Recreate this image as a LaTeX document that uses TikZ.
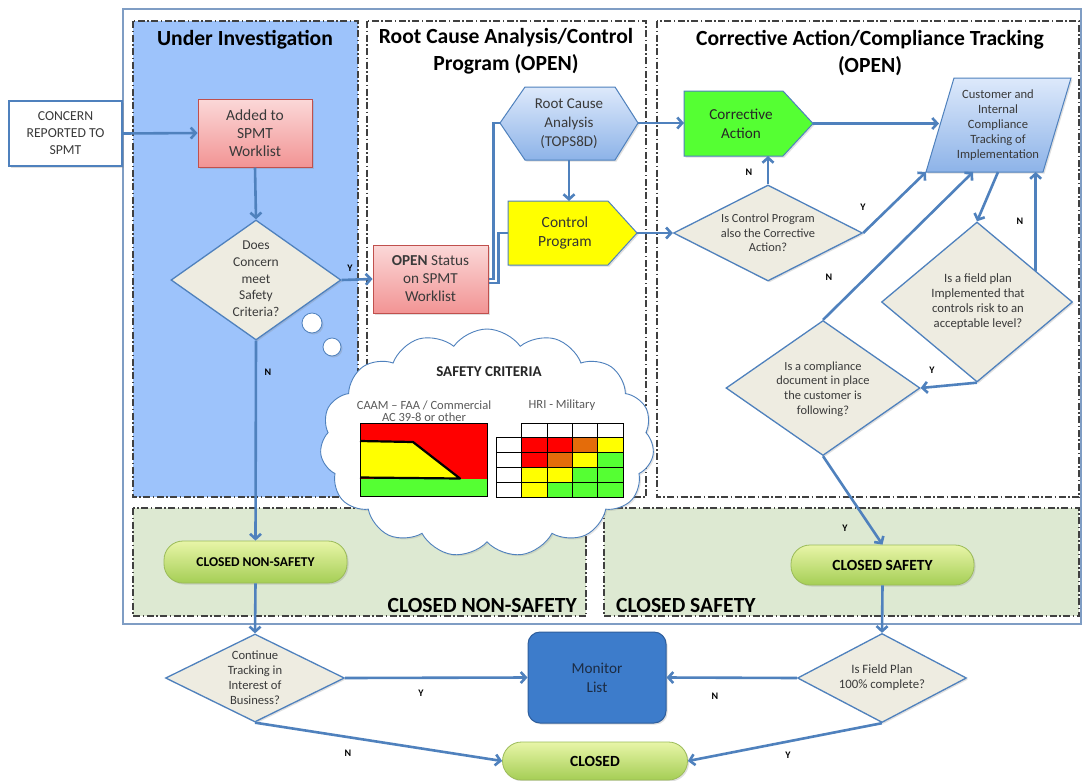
\documentclass[tikz,border=0pt]{standalone}
\usepackage{fontspec}
\setmainfont{Carlito}
\usetikzlibrary{arrows.meta,shapes.geometric,shapes.symbols,shadows,calc}
\definecolor{lineblue}{HTML}{4F81BD}
\definecolor{frameblue}{HTML}{7F9DC4}
\definecolor{colblue}{HTML}{9DC3FB}
\definecolor{regiongreen}{HTML}{DDE9D2}
\definecolor{diafill}{HTML}{EEECE1}
\definecolor{txtgray}{HTML}{3A3A3A}
\definecolor{dashgray}{HTML}{404040}
\definecolor{pinktop}{HTML}{FBD8D8}
\definecolor{pinkbot}{HTML}{F29494}
\definecolor{pinkedge}{HTML}{C0504D}
\definecolor{hextop}{HTML}{DDE9FB}
\definecolor{hexbot}{HTML}{8DB3E8}
\definecolor{ctrlyellow}{HTML}{FFFF00}
\definecolor{cagreen}{HTML}{55FF33}
\definecolor{pilltop}{HTML}{E8F5A8}
\definecolor{pillbot}{HTML}{A5CE55}
\definecolor{pilledge}{HTML}{9BBB59}
\definecolor{monblue}{HTML}{3D7CCB}
\definecolor{monedge}{HTML}{2E5E9C}
\definecolor{montext}{HTML}{1C2C44}
\definecolor{critred}{HTML}{FF0000}
\definecolor{critorange}{HTML}{E46C0A}
\definecolor{chartgray}{HTML}{595959}
\newcommand{\fsz}[2]{\fontsize{#1}{#2}\selectfont}
\tikzset{
  colbox/.style={draw=dashgray, line width=1.2pt, dash pattern=on 7pt off 2.5pt on 1.5pt off 2.5pt},
  conn/.style={draw=lineblue, line width=2.6pt, -{Straight Barb[length=5pt,width=11pt]}},
  link/.style={draw=lineblue, line width=2.6pt},
  yn/.style={font=\bfseries\fsz{10}{11}, text=black, inner sep=0pt},
  dia/.style={diamond, draw=lineblue, line width=1.3pt, fill=diafill, inner sep=0pt,
     drop shadow={opacity=0.25, shadow xshift=1.5pt, shadow yshift=-1.5pt}},
  dtext/.style={align=center, text=txtgray, inner sep=0pt},
  titletext/.style={font=\bfseries\fsz{21.6}{27}, align=center, text=black},
  pill/.style={rectangle, rounded corners=19pt, draw=pilledge, line width=0.8pt,
     top color=pilltop, bottom color=pillbot, text=black,
     drop shadow={opacity=0.25, shadow xshift=1.5pt, shadow yshift=-1.5pt}},
  pinkbox/.style={rectangle, draw=pinkedge, line width=1pt, top color=pinktop, bottom color=pinkbot,
     align=center, text=txtgray, drop shadow={opacity=0.25, shadow xshift=1.5pt, shadow yshift=-1.5pt}},
  shapetext/.style={align=center, inner sep=0pt},
  regionlabel/.style={font=\bfseries\fsz{21.6}{24}, text=black, inner sep=0pt},
  bubble/.style={circle, draw=lineblue, fill=white, line width=0.8pt, inner sep=0pt,
     drop shadow={opacity=0.25, shadow xshift=1.5pt, shadow yshift=-1.5pt}},
  charttext/.style={text=chartgray, align=center, inner sep=0pt}
}
\begin{document}
\begin{tikzpicture}[x=1pt,y=-1pt]
\useasboundingbox (0,0) rectangle (1082,780);
\fill[white] (0,0) rectangle (1082,780);

% frame and columns
\draw[frameblue, line width=1.5pt] (123,9) rectangle (1081,624);
\draw[colbox, fill=colblue] (133,21) rectangle (358,497);
\draw[colbox] (367,21) rectangle (646,497);
\draw[colbox] (657,21) rectangle (1079,497);
\draw[colbox, fill=regiongreen] (133,508) rectangle (586,616);
\draw[colbox, fill=regiongreen] (604,508) rectangle (1079,616);

% titles
\node[titletext] (tui) at (245,40) {Under Investigation};
\node[titletext] (trc) at (506,51.5) {Root Cause Analysis/Control\\Program (OPEN)};
\node[titletext] (tca) at (870,53) {Corrective Action/Compliance Tracking\\(OPEN)};

% region labels
\node[regionlabel, anchor=east] (lblns) at (577,605) {CLOSED NON-SAFETY};
\node[regionlabel, anchor=west] (lbls) at (616,605) {CLOSED SAFETY};

% left nodes
\node[draw=lineblue, line width=1.3pt, fill=white, minimum width=113pt, minimum height=65pt,
      align=center, font=\fsz{13.7}{17}, text=txtgray,
      drop shadow={opacity=0.25, shadow xshift=1.5pt, shadow yshift=-1.5pt}] (concern) at (65.5,133.5) {CONCERN\\REPORTED TO\\SPMT};
\node[pinkbox, minimum width=114pt, minimum height=68pt, font=\fsz{15.5}{18}] (added) at (255,133) {Added to\\SPMT\\Worklist};
\node[dia, minimum width=170pt, minimum height=120pt] (does) at (256,280) {};
\node[dtext, font=\fsz{13.5}{16.7}] (doestxt) at (256,279) {Does\\Concern\\meet\\Safety\\Criteria?};
\node[pinkbox, minimum width=115pt, minimum height=68pt, font=\fsz{15.2}{18}] (open) at (430.5,279) {\textbf{OPEN} Status\\on SPMT\\Worklist};

% root cause hexagon
\draw[draw=lineblue, line width=1pt, top color=hextop, bottom color=hexbot,
      drop shadow={opacity=0.25, shadow xshift=1.5pt, shadow yshift=-1.5pt}]
  (500,123) -- (525,87) -- (615,87) -- (638,123) -- (615,160) -- (525,160) -- cycle;
\node[shapetext, font=\fsz{15}{19}, text=txtgray] (rca) at (569,124) {Root Cause\\Analysis\\(TOPS8D)};
\coordinate (rcaW) at (500,123);
\coordinate (rcaE) at (638,123);
\coordinate (rcaS) at (569,160);

% control program
\draw[draw=lineblue, line width=1pt, fill=ctrlyellow,
      drop shadow={opacity=0.25, shadow xshift=1.5pt, shadow yshift=-1.5pt}]
  (508,201) -- (608,201) -- (637,233) -- (608,265) -- (508,265) -- cycle;
\node[shapetext, font=\fsz{15.5}{19}, text=black!80] (ctrl) at (565,233) {Control\\Program};
\coordinate (ctrlW) at (508,233);
\coordinate (ctrlN) at (569,201);
\coordinate (ctrlE) at (637,233);

% corrective action
\draw[draw=lineblue, line width=1pt, fill=cagreen,
      drop shadow={opacity=0.25, shadow xshift=1.5pt, shadow yshift=-1.5pt}]
  (684,91) -- (783,91) -- (813,123.5) -- (783,156) -- (684,156) -- cycle;
\node[shapetext, font=\fsz{15.2}{19}, text=black!85] (ca) at (741,124) {Corrective\\Action};
\coordinate (caW) at (684,123);
\coordinate (caS) at (768,156);
\coordinate (caE) at (813,123.5);

% customer compliance parallelogram
\draw[draw=lineblue, line width=1pt, top color=hextop, bottom color=hexbot,
      drop shadow={opacity=0.25, shadow xshift=1.5pt, shadow yshift=-1.5pt}]
  (954,78) -- (1071,78) -- (1043,172) -- (926,172) -- cycle;
\node[shapetext, font=\fsz{12.6}{15}, text=txtgray] (cust) at (998,125) {Customer and\\Internal\\Compliance\\Tracking of\\Implementation};
\coordinate (custL) at (939,123.5);
\coordinate (custBL) at (926,172);
\coordinate (custB2) at (973,172);
\coordinate (custB3) at (998,172);

% right diamonds
\node[dia, minimum width=189pt, minimum height=96pt] (isctrl) at (768,233) {};
\node[dtext, font=\fsz{12.4}{14.5}] (isctrltxt) at (768,233) {Is Control Program\\also the Corrective\\Action?};
\node[dia, minimum width=191pt, minimum height=160pt] (field) at (977,302) {};
\node[dtext, font=\fsz{12.7}{15}] (fieldtxt) at (978,302) {Is a field plan\\Implemented that\\controls risk to an\\acceptable level?};
\node[dia, minimum width=194pt, minimum height=135pt] (comp) at (823,388) {};
\node[dtext, font=\fsz{12.4}{14.7}] (comptxt) at (823,389) {Is a compliance\\document in place\\the customer is\\following?};
\coordinate (fieldNE) at ($(field.north)!0.61!(field.east)$);

% pills
\node[pill, minimum width=183pt, minimum height=42pt, font=\bfseries\fsz{13.5}{15}] (closedns) at (255.5,562) {CLOSED NON-SAFETY};
\node[pill, minimum width=183pt, minimum height=40pt, font=\bfseries\fsz{15.5}{17}] (closeds) at (882.5,565) {CLOSED SAFETY};
\node[pill, minimum width=185pt, minimum height=38pt, font=\bfseries\fsz{15.5}{17}] (closed) at (595,761) {CLOSED};

% bottom row
\node[dia, minimum width=179pt, minimum height=88pt] (cont) at (255,678) {};
\node[dtext, font=\fsz{12.6}{15}] (conttxt) at (255,678) {Continue\\Tracking in\\Interest of\\Business?};
\node[dia, minimum width=169pt, minimum height=89pt] (fpc) at (882,678) {};
\node[dtext, font=\fsz{12.8}{15}] (fpctxt) at (882,678) {Is Field Plan\\100\% complete?};
\node[rectangle, rounded corners=12pt, draw=monedge, line width=1pt, fill=monblue,
      minimum width=138pt, minimum height=91pt, font=\fsz{15.2}{19}, text=montext, align=center,
      drop shadow={opacity=0.25, shadow xshift=1.5pt, shadow yshift=-1.5pt}] (monitor) at (597,677.5) {Monitor\\List};

% connectors
\draw[conn] (concern.east) -- (added.west);
\draw[conn] (added.south) -- (does.north);
\draw[conn] (does.east) -- (open.west);
\node[yn] (y1) at (350,268) {Y};
\draw[conn] (does.south) -- (closedns.north);
\node[yn] (n1) at (268,372) {N};
\draw[link] (open.east) -- ++(5,0) |- (rcaW);
\draw[link] ($(open.east)+(0,4)$) -- ++(10,0) |- (ctrlW);
\draw[conn] (rcaS) -- (ctrlN);
\draw[conn] (rcaE) -- (caW);
\draw[conn] (ctrlE) -- (isctrl.west);
\draw[conn] (isctrl.north) -- (caS);
\node[yn] (n2) at (749,172) {N};
\draw[conn] (caE) -- (custL);
\draw[conn] (isctrl.east) -- (custBL);
\node[yn] (y2) at (863,207) {Y};
\draw[conn] (comp.north) -- (custB2);
\node[yn] (n3) at (829,277) {N};
\draw[conn] (custB3) -- (field.north);
\draw[conn] (fieldNE) -- (fieldNE |- custB3);
\node[yn] (n4) at (1020,221) {N};
\draw[conn] (field.south) -- (comp.east);
\node[yn] (y3) at (932,370) {Y};
\draw[conn] (comp.south) -- (closeds.north);
\node[yn] (y4) at (845,528) {Y};
\draw[conn] (closeds.south) -- (fpc.north);
\draw[conn] (closedns.south) -- (cont.north);
\draw[conn] (cont.east) -- (monitor.west);
\node[yn] (y5) at (421,693) {Y};
\draw[conn] (cont.south) -- (closed.west);
\node[yn] (n5) at (348,753) {N};
\draw[conn] (fpc.west) -- (monitor.east);
\node[yn] (n6) at (715,696) {N};
\draw[conn] (fpc.south) -- (closed.east);
\node[yn] (y6) at (788,755) {Y};

% thought bubbles and cloud
\node[bubble, minimum size=20pt] (b1) at (312,323) {};
\node[bubble, minimum size=18pt] (b2) at (332,347) {};
\node[cloud, cloud puffs=15, cloud puff arc=110, aspect=1.5, draw=lineblue, line width=0.9pt,
      fill=white, minimum width=334pt, minimum height=228pt, inner sep=0pt,
      drop shadow={opacity=0.2, shadow xshift=1.5pt, shadow yshift=-1.5pt}] (cloud) at (487,443) {};

% safety criteria contents
\node[font=\bfseries\fsz{15}{17}, text=black!85, inner sep=0pt] (sctitle) at (489,372) {SAFETY CRITERIA};
\node[charttext, font=\fsz{12.5}{12.5}] (caam) at (424,411) {CAAM -- FAA / Commercial\\AC 39-8 or other};
\node[charttext, font=\fsz{12.5}{12.5}] (hri) at (562,405) {HRI - Military};

\fill[critred] (360,423) rectangle (487,479);
\fill[cagreen] (360,479) rectangle (487,496);
\filldraw[fill=ctrlyellow, draw=black, line width=2.2pt, line join=round] (360,441) -- (413,442) -- (460,478.5) -- (360,477.5);
\draw[black, line width=1pt] (360,423) rectangle (487,496);

\foreach \xa/\xb/\ya/\yb/\cc in {
  521/547/423/437/white, 547/572/423/437/white, 572/597/423/437/white, 597/623/423/437/white,
  496/521/437/452/white, 496/521/452/467/white, 496/521/467/482/white, 496/521/482/497/white,
  521/547/437/452/critred, 547/572/437/452/critred, 572/597/437/452/critorange, 597/623/437/452/ctrlyellow,
  521/547/452/467/critred, 547/572/452/467/critorange, 572/597/452/467/ctrlyellow, 597/623/452/467/cagreen,
  521/547/467/482/ctrlyellow, 547/572/467/482/ctrlyellow, 572/597/467/482/cagreen, 597/623/467/482/cagreen,
  521/547/482/497/ctrlyellow, 547/572/482/497/cagreen, 572/597/482/497/cagreen, 597/623/482/497/cagreen}
  \filldraw[fill=\cc, draw=black, line width=1pt] (\xa,\ya) rectangle (\xb,\yb);
\end{tikzpicture}
\end{document}
